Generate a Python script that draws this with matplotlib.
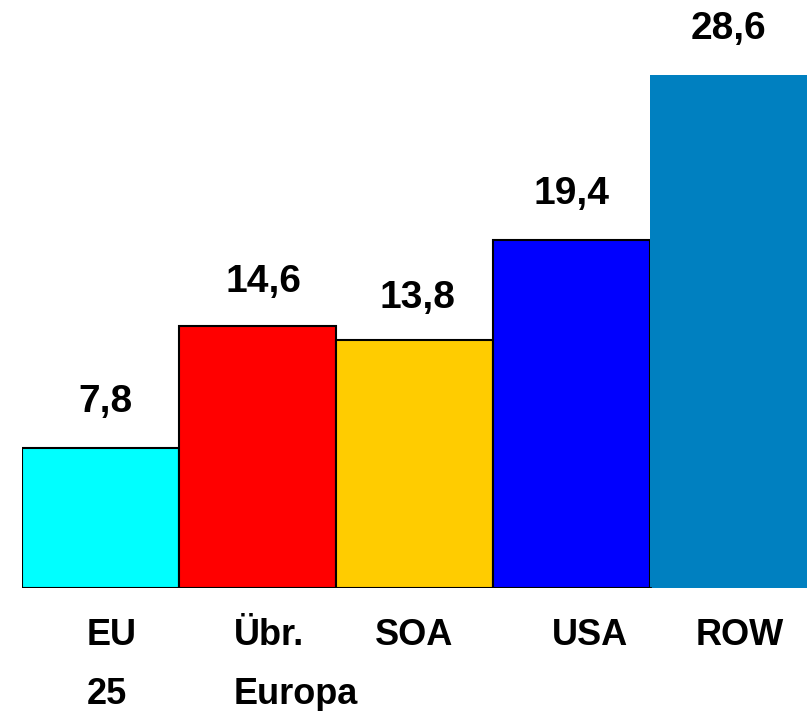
import matplotlib.pyplot as plt

# Data
regions = ['EU\n25', 'Übr.\nEuropa', 'SOA', 'USA', 'ROW']
values = [7.8, 14.6, 13.8, 19.4, 28.6]
value_labels = ['7,8', '14,6', '13,8', '19,4', '28,6']
colors = ['#00FFFF', '#FF0000', '#FFCC00', '#0000FF', '#0080C0']

plt.rcParams['font.family'] = ['Liberation Sans', 'DejaVu Sans']

fig = plt.figure(figsize=(8.08, 7.11), dpi=100)
ax = fig.add_axes([22 / 808, 123 / 711, 785 / 808, 588 / 711])

x = list(range(len(values)))
for i, v in enumerate(values):
    edge = 'black' if i < len(values) - 1 else 'none'
    ax.bar(x[i], v, width=1.0, align='edge', color=colors[i],
           edgecolor=edge, linewidth=1.5, zorder=2)

ax.plot([0, 4], [0, 0], color='black', linewidth=2, zorder=3)

ax.set_xlim(0, 5)
ax.set_ylim(0, 32.75)
ax.axis('off')

# value labels above bars (pixel offsets)
lab_dx = [5, 6, 3, 0, 0]
lab_dy = [46, 44, 42, 46, 46]
for i, v in enumerate(values):
    ax.annotate(value_labels[i], (x[i] + 0.5, v),
                xytext=(lab_dx[i] * 0.72, lab_dy[i] * 0.72), textcoords='offset points',
                ha='center', va='center', fontsize=28, fontweight='bold',
                annotation_clip=False)

# category labels under bars
cat_dx = [11, 38, 0, 19, 11]
for i, name in enumerate(regions):
    ax.annotate(name, (x[i] + 0.5, 0),
                xytext=(cat_dx[i] * 0.72, -30 * 0.72), textcoords='offset points',
                ha='center', va='top', fontsize=26, fontweight='bold',
                multialignment='left', linespacing=1.9,
                annotation_clip=False)

fig.savefig('out.png', dpi=100)
